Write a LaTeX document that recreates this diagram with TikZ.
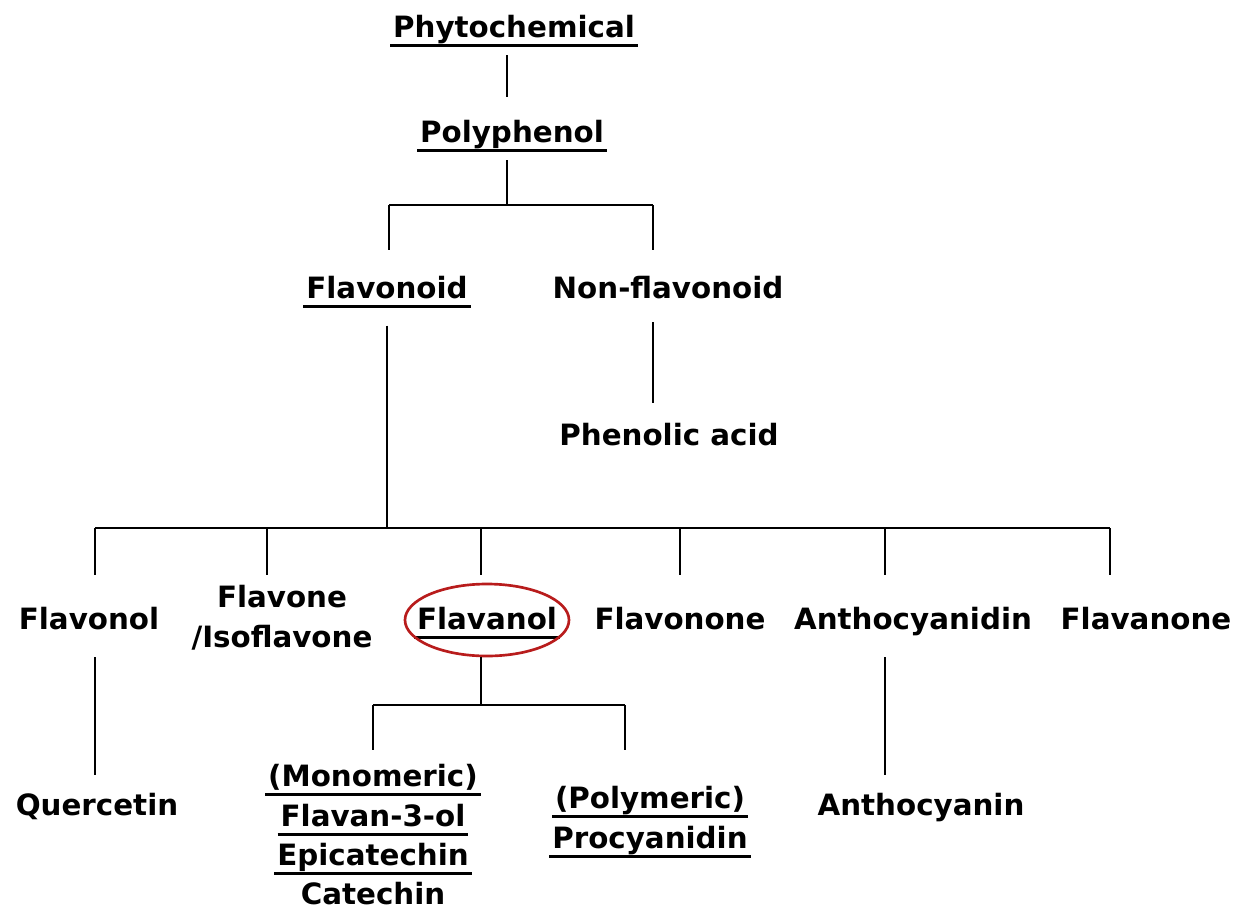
\documentclass[tikz,border=0pt]{standalone}
\usepackage{fontspec}
\setmainfont{DejaVu Sans}
\usetikzlibrary{calc}
\definecolor{MarkRed}{HTML}{B81C1C}
\tikzset{
  chem label/.style={
    font=\bfseries\fontsize{22}{26}\selectfont,
    anchor=base,
    text height=17pt,
    text depth=5pt,
    inner xsep=2pt,
    inner ysep=1pt
  },
  chem key/.style={
    chem label,
    append after command={(\tikzlastnode.south west) edge[ul rule] (\tikzlastnode.south east)}
  },
  ul rule/.style={draw=black, line width=2.1pt},
  tree line/.style={draw=black, line width=2.2pt},
  mark ring/.style={draw=MarkRed, line width=2pt}
}
\begin{document}
\begin{tikzpicture}[x=0.75pt, y=-0.75pt]
  \useasboundingbox (0,0) rectangle (1243,911);

  % labels
  \node[chem key] (phyto) at (514,37) {Phytochemical};
  \node[chem key] (poly) at (512,142) {Polyphenol};
  \node[chem key] (flavonoid) at (387,298) {Flavonoid};
  \node[chem label] (nonflav) at (668,298) {Non-flavonoid};
  \node[chem label] (phenolic) at (669,445) {Phenolic acid};

  \node[chem label] (flavonol) at (89,629) {Flavonol};
  \node[font=\bfseries\fontsize{22}{30}\selectfont, align=center, anchor=north, inner sep=2pt] (flavone) at (282,582) {Flavone\\/Isoflavone};
  \node[chem key] (flavanol) at (487,629) {Flavanol};
  \node[chem label] (flavonone) at (680,629) {Flavonone};
  \node[chem label] (anthocyanidin) at (913,629) {Anthocyanidin};
  \node[chem label] (flavanone) at (1146,629) {Flavanone};

  \node[chem label] (quercetin) at (97,815) {Quercetin};
  \node[chem key] (mono1) at (373,786) {(Monomeric)};
  \node[chem key] (mono2) at (373,826) {Flavan-3-ol};
  \node[chem key] (mono3) at (373,865) {Epicatechin};
  \node[chem label] (mono4) at (373,904) {Catechin};
  \node[chem key] (poly1) at (650,808) {(Polymeric)};
  \node[chem key] (poly2) at (650,848) {Procyanidin};
  \node[chem label] (anthocyanin) at (921,815) {Anthocyanin};

  \draw[mark ring] (487,620) ellipse [x radius=82, y radius=36];

  % forks
  \coordinate (k1) at (507,205);
  \coordinate (k1l) at (389,205);
  \coordinate (k1r) at (653,205);
  \coordinate (k2) at (387,528);
  \coordinate (k3) at (481,705);
  \coordinate (k3l) at (373,705);
  \coordinate (k3r) at (625,705);
  \foreach \n/\x in {1/95,2/267,3/481,4/680,5/885,6/1110}
    \coordinate (d\n) at (\x,528);

  % connectors
  \draw[tree line, shorten <=7.5pt, shorten >=15.5pt] (phyto.south -| k1) -- (poly.north -| k1);
  \draw[tree line, shorten <=7.5pt] (poly.south -| k1) -- (k1);
  \draw[tree line] (k1l) -- (k1r);
  \draw[tree line, shorten >=18pt] (k1l) -- (flavonoid.north -| k1l);
  \draw[tree line, shorten >=18pt] (k1r) -- (nonflav.north -| k1r);
  \draw[tree line, shorten <=14.5pt] (flavonoid.south -| k2) -- (k2);
  \draw[tree line, shorten <=12pt, shorten >=13.5pt] (nonflav.south -| k1r) -- (phenolic.north -| k1r);

  \draw[tree line] (d1) -- (d6);
  \foreach \n/\t in {1/flavonol,3/flavanol,4/flavonone,5/anthocyanidin,6/flavanone}
    \draw[tree line, shorten >=22.5pt] (d\n) -- (d\n |- \t.north);
  \draw[tree line, shorten >=5.5pt] (d2) -- (d2 |- flavone.north);

  \draw[tree line, shorten <=15pt, shorten >=12pt] (flavonol.south -| d1) -- (quercetin.north -| d1);
  \draw[tree line, shorten <=15pt, shorten >=12pt] (anthocyanidin.south -| d5) -- (anthocyanin.north -| d5);

  \draw[tree line, shorten <=14.5pt] (flavanol.south -| k3) -- (k3);
  \draw[tree line] (k3l) -- (k3r);
  \draw[tree line, shorten >=9pt] (k3l) -- (mono1.north -| k3l);
  \draw[tree line, shorten >=25.5pt] (k3r) -- (poly1.north -| k3r);
\end{tikzpicture}
\end{document}
